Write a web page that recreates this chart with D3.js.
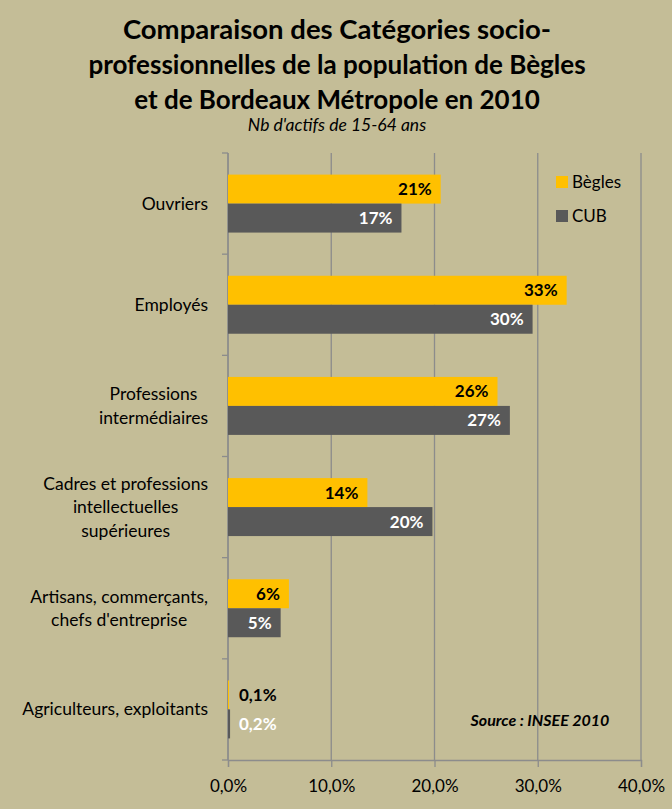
<!DOCTYPE html>
<html>
<head>
<meta charset="utf-8">
<script src="https://cdn.jsdelivr.net/npm/d3@7"></script>
<style>
  body { margin: 0; background: #fff; }
  svg { display: block; font-family: Lato, "Open Sans", sans-serif; }
</style>
</head>
<body>
<div id="chart"></div>
<script>
// categories, top to bottom (lines of each label)
var categories = ["Ouvriers", "Employés", "Professions intermédiaires",
  "Cadres et professions intellectuelles supérieures",
  "Artisans, commerçants, chefs d'entreprise", "Agriculteurs, exploitants"];
var categoryLines = [["Ouvriers"], ["Employés"], ["Professions", "intermédiaires"],
  ["Cadres et professions", "intellectuelles", "supérieures"],
  ["Artisans, commerçants,", "chefs d'entreprise"], ["Agriculteurs, exploitants"]];
var series = ["Bègles", "CUB"];
var beglesValues = [20.6, 32.8, 26.1, 13.5, 5.9, 0.1];
var cubValues = [16.8, 29.5, 27.3, 19.8, 5.1, 0.2];
var beglesLabels = ["21%", "33%", "26%", "14%", "6%", "0,1%"];
var cubLabels = ["17%", "30%", "27%", "20%", "5%", "0,2%"];
var xTicks = [0, 10, 20, 30, 40];
var titleLines = ["Comparaison des Catégories socio-",
  "professionnelles de la population de Bègles",
  "et de Bordeaux Métropole en 2010"];
var subtitle = "Nb d'actifs de 15-64 ans";
var source = "Source : INSEE 2010";

var W = 672, H = 809;
var colors = { "Bègles": "#ffc000", "CUB": "#595959" };
var labelColors = { "Bègles": "#000", "CUB": "#fff" };
var gridColor = "#8c8c8c";

var svg = d3.select("#chart").append("svg")
  .attr("width", W).attr("height", H);

svg.append("rect").attr("width", W).attr("height", H).attr("fill", "#c4bd97");

var plotL = 228, plotR = 641, plotT = 153, plotB = 760;

var x = d3.scaleLinear().domain([0, 40]).range([plotL, plotR]);
var y = d3.scaleBand().domain(categories).range([plotT, plotB])
  .paddingInner(0.427).paddingOuter(0.2135);
var ySub = d3.scaleBand().domain(series).range([0, y.bandwidth()]);
var step = y.step();

// title
titleLines.forEach(function(t, i) {
  svg.append("text")
    .attr("x", 337).attr("y", 39 + i * 35)
    .attr("text-anchor", "middle")
    .attr("font-size", i == 0 ? 27.5 : 26).attr("font-weight", "bold")
    .attr("fill", "#000")
    .text(t);
});
svg.append("text")
  .attr("x", 337).attr("y", 131)
  .attr("text-anchor", "middle")
  .attr("font-size", 17.5).attr("font-style", "italic")
  .text(subtitle);

// gridlines
svg.append("g").selectAll("line").data(xTicks).join("line")
  .attr("x1", function(d) { return x(d); }).attr("x2", function(d) { return x(d); })
  .attr("y1", plotT).attr("y2", plotB)
  .attr("stroke", gridColor).attr("stroke-width", 1.3);

// bottom axis
var xAxis = d3.axisBottom(x).tickValues(xTicks).tickSize(7).tickPadding(13)
  .tickFormat(function(d) { return d.toFixed(1).replace(".", ",") + "%"; });
var gx = svg.append("g").attr("transform", "translate(0," + plotB + ")").call(xAxis);
gx.select(".domain").attr("stroke", gridColor).attr("stroke-width", 1.3);
gx.selectAll(".tick line").attr("stroke", gridColor).attr("stroke-width", 1.3);
gx.selectAll(".tick text").attr("font-size", 17).attr("fill", "#000")
  .attr("font-family", "Lato, sans-serif");

// left axis line + ticks at band boundaries
svg.append("line").attr("x1", plotL).attr("x2", plotL).attr("y1", plotT).attr("y2", plotB)
  .attr("stroke", gridColor).attr("stroke-width", 1.3);
var bounds = d3.range(categories.length + 1);
svg.append("g").selectAll("line").data(bounds).join("line")
  .attr("x1", plotL - 6).attr("x2", plotL)
  .attr("y1", function(i) { return plotT + i * step; })
  .attr("y2", function(i) { return plotT + i * step; })
  .attr("stroke", gridColor).attr("stroke-width", 1.3);

// category labels: lines centred on each other, block right-aligned
categories.forEach(function(c, i) {
  var lines = categoryLines[i];
  var g = svg.append("g");
  var cy = y(c) + y.bandwidth() / 2;
  var lh = 23.5;
  var texts = lines.map(function(l, j) {
    return g.append("text")
      .attr("y", cy + (j - (lines.length - 1) / 2) * lh + 6)
      .attr("font-size", 17.5).attr("fill", "#000")
      .attr("text-anchor", "middle")
      .text(l);
  });
  var maxW = d3.max(texts, function(t) { return t.node().getComputedTextLength(); });
  texts.forEach(function(t) { t.attr("x", 208 - maxW / 2); });
});

// bars
var rows = categories.map(function(c, i) {
  return [
    { cat: c, s: "Bègles", v: beglesValues[i], label: beglesLabels[i] },
    { cat: c, s: "CUB", v: cubValues[i], label: cubLabels[i] }
  ];
}).flat();

svg.append("g").selectAll("rect").data(rows).join("rect")
  .attr("x", x(0))
  .attr("y", function(d) { return y(d.cat) + ySub(d.s); })
  .attr("width", function(d) { return x(d.v) - x(0); })
  .attr("height", ySub.bandwidth())
  .attr("fill", function(d) { return colors[d.s]; });

svg.append("g").selectAll("text").data(rows).join("text")
  .attr("y", function(d) { return y(d.cat) + ySub(d.s) + ySub.bandwidth() / 2 + 6; })
  .attr("font-size", 17).attr("font-weight", "bold")
  .attr("fill", function(d) { return labelColors[d.s]; })
  .text(function(d) { return d.label; })
  .each(function(d) {
    var w = this.getComputedTextLength();
    var end = x(d.v) - 9;
    if (end - w < x(0)) {
      d3.select(this).attr("x", x(0) + 11).attr("text-anchor", "start");
    } else {
      d3.select(this).attr("x", end).attr("text-anchor", "end");
    }
  });

// legend
series.forEach(function(s, i) {
  svg.append("rect").attr("x", 556).attr("y", 176 + i * 34)
    .attr("width", 12).attr("height", 12).attr("fill", colors[s]);
  svg.append("text").attr("x", 572).attr("y", 188 + i * 34)
    .attr("font-size", 17).attr("fill", "#000").text(s);
});

// source
svg.append("text").attr("x", 540).attr("y", 726)
  .attr("text-anchor", "middle")
  .attr("font-size", 16).attr("font-weight", "bold").attr("font-style", "italic")
  .text(source);
</script>
</body>
</html>
